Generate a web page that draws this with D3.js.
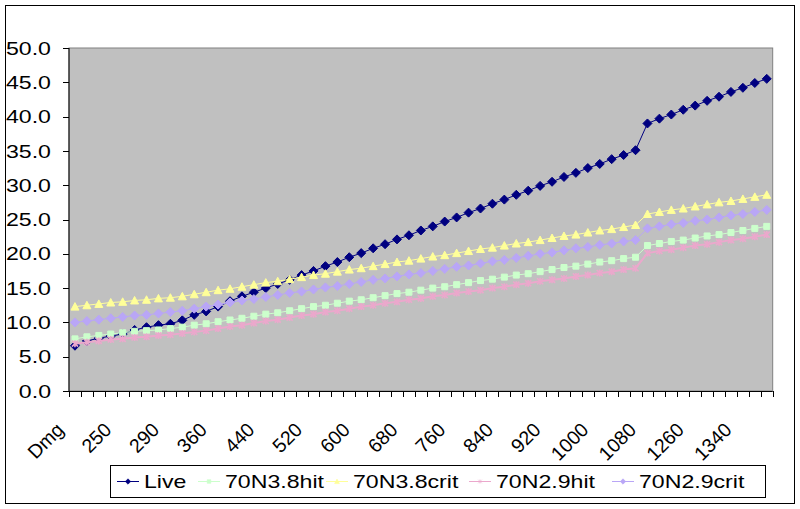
<!DOCTYPE html>
<html>
<head>
<meta charset="utf-8">
<script src="https://cdn.jsdelivr.net/npm/d3@7"></script>
<style>
  body { margin: 0; background: #fff; }
  text { font-family: "Liberation Sans", Arial, sans-serif; fill: #000; }
</style>
</head>
<body>
<svg id="chart" width="800" height="509"></svg>
<script>
// categories (only every 4th one is labelled on the axis)
const categories = ["Dmg", "220", "230", "240", "250", "260", "270", "280", "290", "300", "320", "340",
  "360", "380", "400", "420", "440", "460", "480", "500", "520", "540", "560", "580",
  "600", "620", "640", "660", "680", "700", "720", "740", "760", "780", "800", "820",
  "840", "860", "880", "900", "920", "940", "960", "980", "1000", "1020", "1040", "1060",
  "1080", "1120", "1180", "1220", "1260", "1280", "1300", "1320", "1340", "1360", "1380"];

const live = [6.6, 7.3, 7.7, 8.0, 8.3, 8.9, 9.3, 9.6, 9.8, 10.3, 11.1, 11.6, 12.3, 13.1, 13.8, 14.4,
  15.0, 15.6, 16.2, 16.9, 17.5, 18.2, 18.8, 19.5, 20.1, 20.8, 21.4, 22.1, 22.7, 23.4, 24.0, 24.7,
  25.3, 26.0, 26.6, 27.3, 27.9, 28.6, 29.2, 29.9, 30.5, 31.2, 31.8, 32.5, 33.1, 33.8, 34.4, 35.1,
  39.0, 39.7, 40.3, 41.0, 41.6, 42.3, 42.9, 43.6, 44.2, 44.9, 45.5];

const hit38 = [7.6, 7.9, 8.1, 8.3, 8.5, 8.7, 8.8, 8.9, 9.1, 9.3, 9.6, 9.8, 10.1, 10.35, 10.6, 10.9,
  11.2, 11.4, 11.7, 12.0, 12.3, 12.5, 12.8, 13.1, 13.3, 13.6, 13.9, 14.2, 14.4, 14.7, 15.0, 15.2,
  15.5, 15.8, 16.1, 16.3, 16.6, 16.9, 17.1, 17.4, 17.7, 18.0, 18.2, 18.5, 18.8, 19.0, 19.3, 19.5,
  21.2, 21.5, 21.8, 22.0, 22.3, 22.6, 22.8, 23.1, 23.4, 23.7, 24.0];

const crit38 = [12.3, 12.5, 12.7, 12.9, 13.0, 13.2, 13.3, 13.5, 13.6, 13.8, 14.1, 14.4, 14.7, 14.9, 15.2, 15.5,
  15.8, 16.0, 16.3, 16.6, 16.9, 17.1, 17.4, 17.7, 17.9, 18.2, 18.5, 18.8, 19.0, 19.3, 19.6, 19.8,
  20.1, 20.4, 20.7, 20.9, 21.2, 21.5, 21.7, 22.0, 22.3, 22.6, 22.8, 23.1, 23.4, 23.6, 23.9, 24.2,
  25.8, 26.1, 26.4, 26.6, 26.9, 27.2, 27.5, 27.7, 28.0, 28.3, 28.6];

const hit29 = [6.9, 7.1, 7.3, 7.5, 7.6, 7.8, 7.9, 8.1, 8.2, 8.4, 8.6, 8.8, 9.1, 9.4, 9.6, 9.9,
  10.2, 10.4, 10.7, 11.0, 11.2, 11.5, 11.7, 12.0, 12.3, 12.5, 12.8, 13.0, 13.3, 13.5, 13.8, 14.0,
  14.3, 14.5, 14.7, 15.0, 15.2, 15.5, 15.7, 16.0, 16.2, 16.4, 16.7, 16.9, 17.2, 17.4, 17.7, 17.9,
  20.1, 20.4, 20.6, 20.9, 21.2, 21.4, 21.7, 22.0, 22.2, 22.5, 22.8];

const crit29 = [10.0, 10.2, 10.4, 10.6, 10.8, 11.0, 11.1, 11.3, 11.5, 11.7, 12.0, 12.3, 12.6, 12.9, 13.2, 13.4,
  13.7, 14.0, 14.3, 14.5, 14.8, 15.1, 15.3, 15.6, 15.9, 16.2, 16.4, 16.7, 17.0, 17.2, 17.5, 17.8,
  18.1, 18.3, 18.6, 18.9, 19.1, 19.4, 19.7, 20.0, 20.2, 20.5, 20.8, 21.0, 21.3, 21.5, 21.8, 22.0,
  23.7, 24.0, 24.3, 24.5, 24.8, 25.0, 25.3, 25.6, 25.8, 26.1, 26.4];

const seriesNames = ["Live", "70N3.8hit", "70N3.8crit", "70N2.9hit", "70N2.9crit"];
const yTicks = [0, 5, 10, 15, 20, 25, 30, 35, 40, 45, 50];

const series = [
  { name: seriesNames[0], values: live,   color: "#000080", marker: "diamond" },
  { name: seriesNames[1], values: hit38,  color: "#ccffcc", marker: "square" },
  { name: seriesNames[2], values: crit38, color: "#ffff99", marker: "triangle" },
  { name: seriesNames[3], values: hit29,  color: "#eba8cc", marker: "star" },
  { name: seriesNames[4], values: crit29, color: "#b9a6f6", marker: "diamond" }
];

const plot = { left: 69, right: 772.7, top: 48, bottom: 391 };
const stretch = 1.25;   // horizontal text in the source is stretched

const svg = d3.select("#chart");

// outer frame
svg.append("rect")
  .attr("x", 5.5).attr("y", 5.5).attr("width", 789).attr("height", 498)
  .attr("fill", "#fff").attr("stroke", "#000").attr("stroke-width", 1);

const x = d3.scaleBand()
  .domain(categories)
  .range([plot.left, plot.right])
  .padding(0);

const y = d3.scaleLinear()
  .domain([0, 50])
  .range([plot.bottom, plot.top]);

// plot area
svg.append("rect")
  .attr("x", plot.left).attr("y", plot.top)
  .attr("width", plot.right - plot.left).attr("height", plot.bottom - plot.top)
  .attr("fill", "#c0c0c0").attr("stroke", "#808080");

// y axis
svg.append("line")
  .attr("x1", plot.left).attr("x2", plot.left)
  .attr("y1", plot.top).attr("y2", plot.bottom)
  .attr("stroke", "#000");

svg.selectAll("line.ytick")
  .data(yTicks)
  .join("line")
  .attr("class", "ytick")
  .attr("x1", plot.left - 6).attr("x2", plot.left)
  .attr("y1", d => Math.round(y(d)) + 0.5).attr("y2", d => Math.round(y(d)) + 0.5)
  .attr("stroke", "#000");

svg.selectAll("text.ylab")
  .data(yTicks)
  .join("text")
  .attr("class", "ylab")
  .attr("transform", d => `translate(51, ${y(d)}) scale(${stretch},1)`)
  .attr("text-anchor", "end")
  .attr("dy", "0.36em")
  .style("font-size", "18.5px")
  .text(d => d3.format(".1f")(d));

// x axis
svg.append("line")
  .attr("x1", plot.left).attr("x2", plot.right)
  .attr("y1", plot.bottom + 0.5).attr("y2", plot.bottom + 0.5)
  .attr("stroke", "#000");

const tickPos = categories.map(c => x(c)).concat([plot.right]);
svg.selectAll("line.xtick")
  .data(tickPos)
  .join("line")
  .attr("class", "xtick")
  .attr("x1", d => Math.round(d) + 0.5).attr("x2", d => Math.round(d) + 0.5)
  .attr("y1", plot.bottom).attr("y2", plot.bottom + 6)
  .attr("stroke", "#000");

svg.selectAll("text.xlab")
  .data(categories.filter((c, i) => i % 4 == 0))
  .join("text")
  .attr("class", "xlab")
  .attr("transform", d => `translate(${x(d) + x.bandwidth() / 2 - 10}, 431) rotate(-45)`)
  .attr("text-anchor", "end")
  .style("font-size", "19.5px")
  .text(d => d);

// marker shapes
function markerPath(type) {
  if (type == "diamond") return "M0,-4.5L4.5,0L0,4.5L-4.5,0Z";
  if (type == "square") return "M-3,-3H3V3H-3Z";
  if (type == "triangle") return "M0,-4L4,3.5H-4Z";
  return "M-3,-3L3,3M-3,3L3,-3M0,-3.5V3.5";
}

const line = d3.line()
  .x((d, i) => x(categories[i]) + x.bandwidth() / 2)
  .y(d => y(d));

series.forEach(s => {
  const open = s.marker == "star";
  const g = svg.append("g");
  g.append("path")
    .attr("d", line(s.values))
    .attr("fill", "none")
    .attr("stroke", s.color)
    .attr("stroke-width", open ? 2 : 1);

  g.selectAll("path.mk")
    .data(s.values)
    .join("path")
    .attr("class", "mk")
    .attr("transform", (d, i) => `translate(${x(categories[i]) + x.bandwidth() / 2}, ${y(d)})`)
    .attr("d", markerPath(s.marker))
    .attr("fill", open ? "none" : s.color)
    .attr("stroke", s.color)
    .attr("stroke-width", open ? 1.6 : 1);
});

// legend
const legendX = [117, 198, 326, 469, 612];
const legend = svg.append("g");
legend.append("rect")
  .attr("x", 110.5).attr("y", 465.5).attr("width", 655).attr("height", 32)
  .attr("fill", "#fff").attr("stroke", "#000");

series.forEach((s, i) => {
  const lx = legendX[i];
  legend.append("line")
    .attr("x1", lx).attr("x2", lx + 22)
    .attr("y1", 481.5).attr("y2", 481.5)
    .attr("stroke", s.color);
  legend.append("path")
    .attr("transform", `translate(${lx + 11}, 481.5) scale(0.6)`)
    .attr("d", markerPath(s.marker))
    .attr("fill", s.marker == "star" ? "none" : s.color)
    .attr("stroke", s.color);
  legend.append("text")
    .attr("transform", `translate(${lx + 27}, 481.5) scale(${stretch},1)`)
    .attr("dy", "0.36em")
    .style("font-size", "18.5px")
    .text(s.name);
});
</script>
</body>
</html>
